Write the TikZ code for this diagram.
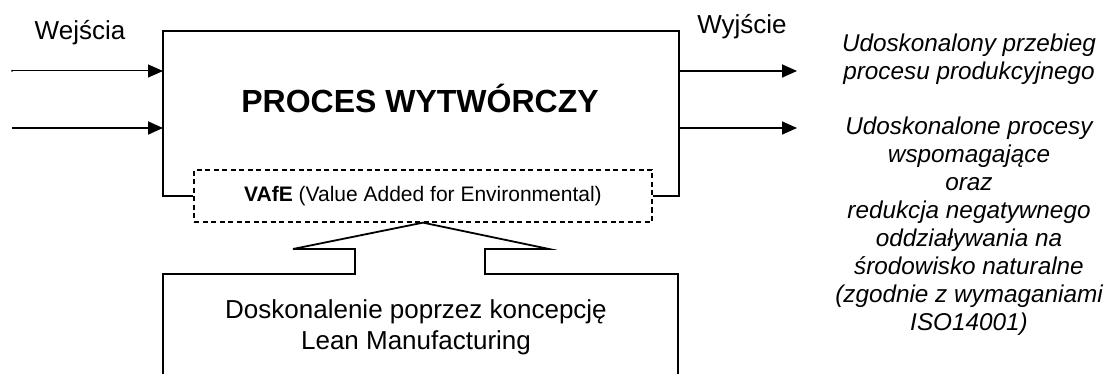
\documentclass[tikz,border=0pt]{standalone}
\usepackage{fontspec}
\setmainfont{Liberation Sans}
\usetikzlibrary{arrows.meta}
\begin{document}
\begin{tikzpicture}[x=1pt,y=-1pt,
  boxline/.style={line width=1.8pt},
  arr/.style={line width=1.8pt,-{Triangle[length=15pt,width=13pt]}},
  thinarr/.style={line width=1pt,-{Triangle[length=15pt,width=13pt]}},
  lbl/.style={inner sep=0pt,align=center},
  outtxt/.style={inner sep=0pt,align=center,font=\fontsize{24.3}{28}\selectfont\itshape}]
\useasboundingbox (0,0) rectangle (1108,374);
% main box corners
\coordinate (tl) at (163,31);
\coordinate (tr) at (679,31);
% dashed VAfE box
\node[draw,dashed,dash pattern=on 5pt off 3.5pt,line width=1.3pt,minimum width=458pt,minimum height=52pt,inner sep=0pt,
      font=\fontsize{21}{25}\selectfont] (vafe) at (423,196) {\textbf{VAfE} (Value Added for Environmental)};
\draw[boxline] (vafe.west) -| (tl) -- (tr) |- (vafe.east);
% title
\node[lbl,font=\fontsize{32}{38}\selectfont\bfseries] (proc) at (420,98) {PROCES WYTWÓRCZY};
% labels
\node[lbl,font=\fontsize{26}{30}\selectfont] (wej) at (80,33) {Wejścia};
\node[lbl,font=\fontsize{26}{30}\selectfont] (wyj) at (742,27) {Wyjście};
% inputs
\coordinate (in1) at (12,71);
\coordinate (in2) at (12,128);
\fill (in1) circle (1pt);
\draw[thinarr] (in1) -- (in1 -| tl);
\draw[arr] (in2) -- (in2 -| tl);
% outputs
\coordinate (o1) at (797,71);
\coordinate (o2) at (797,128);
\draw[arr] (o1 -| tr) -- (o1);
\draw[arr] (o2 -| tr) -- (o2);
\node[outtxt] (t1) at (969,59) {Udoskonalony przebieg\\procesu produkcyjnego};
\node[outtxt] (t2) at (969,226) {Udoskonalone procesy\\wspomagające\\oraz\\redukcja negatywnego\\oddziaływania na\\środowisko naturalne\\(zgodnie z wymaganiami\\ISO14001)};
% big arrow and lower box
\coordinate (bl) at (163,374);
\coordinate (br) at (678,374);
\draw[boxline,line join=miter] (bl) -- (163,274) -- (355,274) -- (355,249) -- (293,249) -- (vafe.south)
  -- (549,249) -- (485,249) -- (485,274) -- (678,274) -- (br);
\node[lbl,font=\fontsize{26}{31}\selectfont] (dosk) at (416,327) {Doskonalenie poprzez koncepcję\\Lean Manufacturing};
\end{tikzpicture}
\end{document}
